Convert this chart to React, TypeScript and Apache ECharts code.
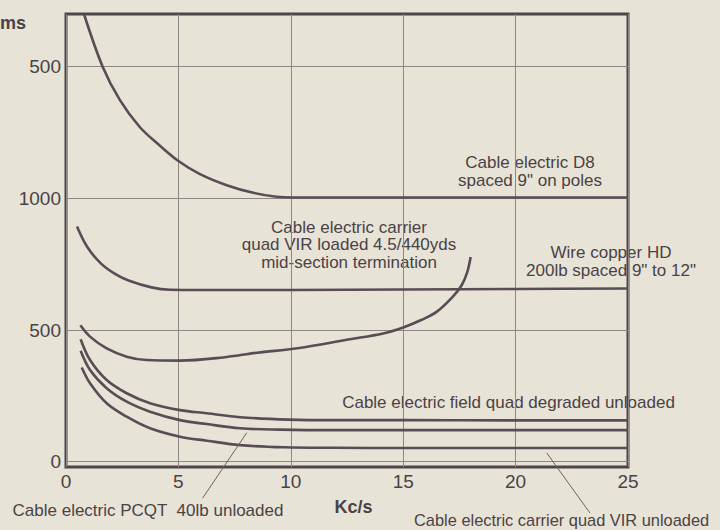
import React, { useEffect, useRef } from "react";
import * as echarts from "echarts";

// ---- data ----
const xTicks = [0, 5, 10, 15, 20, 25];
const yTickValues = [0, 500, 1000, 1500];
const yTickLabels = ["0", "500", "1000", "500"];

const d8Spaced = [
  [0.8, 1700], [1.63, 1500], [2.4, 1373], [3.29, 1270], [4.18, 1200], [5.0, 1142],
  [5.96, 1092], [7.15, 1050], [8.33, 1021], [9.37, 1006], [10.1, 1003], [15, 1003],
  [20, 1003], [25, 1003],
];
const wireCopperHD = [
  [0.49, 893], [0.94, 816], [1.56, 752], [2.2, 712], [2.78, 688], [3.8, 662], [4.63, 653],
  [6, 652], [10, 652], [15, 654], [20, 656], [25, 658],
];
const quadVirLoaded = [
  [0.64, 518], [1.07, 475], [1.81, 430], [2.7, 399], [3.59, 386], [5.07, 384], [6.98, 396],
  [8.5, 414], [10.3, 431], [12.63, 465], [14.1, 487], [15.0, 510], [15.8, 538], [16.5, 570],
  [17.2, 626], [17.6, 670], [17.85, 720], [18.0, 777],
];
const fieldQuadDegraded = [
  [0.65, 465], [1.07, 386], [1.81, 310], [2.7, 260], [3.74, 222], [5.07, 196], [6.26, 184],
  [7.74, 169], [9.9, 160], [12, 158], [15, 158], [20, 157], [25, 157],
];
const pcqt40lb = [
  [0.65, 421], [1.07, 348], [1.81, 279], [2.7, 228], [3.74, 190], [5.07, 158], [6.26, 143],
  [7.74, 127], [9.5, 122], [12, 120], [15, 120], [20, 120], [25, 120],
];
const quadVirUnloaded = [
  [0.7, 358], [1.07, 298], [1.81, 222], [2.7, 171], [3.74, 127], [5.07, 95], [6.26, 80],
  [7.74, 63], [9.73, 55], [12, 53], [15, 52], [20, 52], [25, 52],
];
const pcqtLeader = [[6.08, -138], [8.04, 110]];
const virUnloadedLeader = [[21.38, 34], [23.31, -195]];

// ---- styles ----
const FONT = "'Liberation Sans', Arial, Helvetica, sans-serif";
const BG = "#e8e3d7";
const INK = "#4a4245";
const CURVE = "#5a4c55";
const FRAME = "#4f4449";
const GRID = "#8e8684";

const annotations = [
  { text: "Cable electric D8", x: 530, y: 162, align: "center", size: 17 },
  { text: 'spaced 9" on poles', x: 530, y: 180, align: "center", size: 17 },
  { text: "Cable electric carrier", x: 349, y: 227, align: "center", size: 17 },
  { text: "quad VIR loaded 4.5/440yds", x: 349, y: 244.5, align: "center", size: 17 },
  { text: "mid-section termination", x: 349, y: 262, align: "center", size: 17 },
  { text: "Wire copper HD", x: 611, y: 252, align: "center", size: 17 },
  { text: '200lb spaced 9" to 12"', x: 611, y: 270, align: "center", size: 17 },
  { text: "Cable electric field quad degraded unloaded", x: 508.5, y: 402, align: "center", size: 17 },
  { text: "Cable electric PCQT  40lb unloaded", x: 148, y: 510, align: "center", size: 17 },
  { text: "Cable electric carrier quad VIR unloaded", x: 414, y: 520, align: "left", size: 16.4 },
];

export default function App() {
  const ref = useRef<HTMLDivElement>(null);

  useEffect(() => {
    document.body.style.margin = "0";
    const chart = echarts.init(ref.current!, undefined, { renderer: "svg" });

    const curve = (name: string, data: number[][]) => ({
      name,
      type: "line",
      data,
      smooth: 0.35,
      showSymbol: false,
      symbol: "none",
      lineStyle: { color: CURVE, width: 2.6 },
      silent: true,
      z: 3,
    });
    const leader = (name: string, data: number[][]) => ({
      name,
      type: "line",
      data,
      showSymbol: false,
      symbol: "none",
      clip: false,
      lineStyle: { color: "#6a6064", width: 1 },
      silent: true,
      z: 3,
    });

    const graphicTexts: any[] = annotations.map((a) => ({
      type: "text",
      x: a.x,
      y: a.y,
      silent: true,
      style: {
        text: a.text,
        font: `${a.size}px ${FONT}`,
        fill: INK,
        align: a.align,
        verticalAlign: "middle",
      },
    }));
    graphicTexts.push({
      type: "text",
      x: 353.5,
      y: 507,
      silent: true,
      style: { text: "Kc/s", font: `bold 18px ${FONT}`, fill: INK, align: "center", verticalAlign: "middle" },
    });
    graphicTexts.push({
      type: "text",
      x: 0,
      y: 23,
      silent: true,
      style: { text: "ms", font: `bold 18px ${FONT}`, fill: INK, align: "left", verticalAlign: "middle" },
    });

    chart.setOption({
      animation: false,
      backgroundColor: BG,
      grid: {
        left: 66,
        right: 92,
        top: 14,
        bottom: 63,
        show: true,
        borderWidth: 3,
        borderColor: FRAME,
        backgroundColor: "transparent",
        containLabel: false,
      },
      xAxis: {
        type: "value",
        min: 0,
        max: 25,
        interval: 5,
        axisLine: { show: false },
        axisTick: { show: false },
        axisLabel: {
          color: INK,
          fontSize: 19,
          fontFamily: FONT,
          margin: 5,
          formatter: (v: number) => (xTicks.includes(v) ? String(v) : ""),
        },
        splitLine: { show: true, lineStyle: { color: GRID, width: 1 } },
      },
      yAxis: {
        type: "value",
        min: -20,
        max: 1700,
        axisLine: { show: false },
        axisTick: { show: false, customValues: yTickValues },
        axisLabel: {
          customValues: yTickValues,
          color: INK,
          fontSize: 19,
          fontFamily: FONT,
          margin: 5,
          formatter: (v: number) => {
            const i = yTickValues.indexOf(v);
            return i >= 0 ? yTickLabels[i] : "";
          },
        },
        splitLine: { show: true, lineStyle: { color: GRID, width: 1 } },
      },
      series: [
        curve("Cable electric D8 spaced 9\" on poles", d8Spaced),
        curve("Wire copper HD 200lb spaced 9\" to 12\"", wireCopperHD),
        curve("Cable electric carrier quad VIR loaded", quadVirLoaded),
        curve("Cable electric field quad degraded unloaded", fieldQuadDegraded),
        curve("Cable electric PCQT 40lb unloaded", pcqt40lb),
        curve("Cable electric carrier quad VIR unloaded", quadVirUnloaded),
        leader("pcqt leader", pcqtLeader),
        leader("vir unloaded leader", virUnloadedLeader),
      ],
      graphic: graphicTexts,
    });

    return () => chart.dispose();
  }, []);

  return (
    <div
      ref={ref}
      style={{ position: "absolute", left: 0, top: 0, width: 720, height: 530, background: BG }}
    />
  );
}
